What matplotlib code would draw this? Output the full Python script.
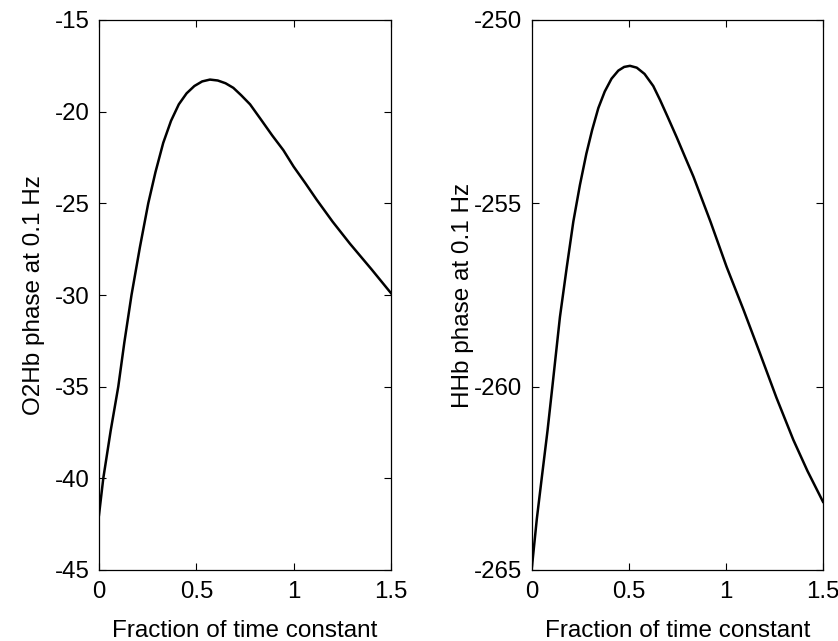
import matplotlib
matplotlib.use("Agg")
import matplotlib.pyplot as plt

plt.rcParams["font.family"] = ["Liberation Sans", "DejaVu Sans"]

# ── Data ─────────────────────────────────────────────────────────────────────
o2hb_x = [0.0, 0.022, 0.06, 0.099, 0.13, 0.167, 0.21, 0.253, 0.29, 0.33,
          0.37, 0.41, 0.45, 0.49, 0.53, 0.57, 0.61, 0.65, 0.69, 0.73,
          0.776, 0.83, 0.89, 0.947, 1.0, 1.06, 1.118, 1.2, 1.289, 1.4, 1.5]
o2hb_y = [-42.0, -40.0, -37.4, -35.0, -32.6, -30.0, -27.4, -25.0, -23.3, -21.7,
          -20.5, -19.6, -19.0, -18.6, -18.35, -18.25, -18.3, -18.45, -18.7, -19.1,
          -19.6, -20.4, -21.3, -22.1, -23.0, -23.9, -24.8, -26.0, -27.2, -28.6, -29.9]

hhb_x = [0.0, 0.025, 0.05, 0.08, 0.105, 0.144, 0.179, 0.213, 0.247, 0.28,
         0.31, 0.342, 0.375, 0.41, 0.445, 0.475, 0.505, 0.54, 0.58, 0.625,
         0.66, 0.70, 0.746, 0.79, 0.832, 0.92, 1.003, 1.09, 1.175, 1.26,
         1.347, 1.42, 1.5]
hhb_y = [-264.9, -263.6, -262.5, -261.2, -260.0, -258.1, -256.75, -255.5, -254.5, -253.65,
         -253.0, -252.4, -251.95, -251.6, -251.38, -251.28, -251.25, -251.3, -251.47, -251.8,
         -252.18, -252.65, -253.2, -253.75, -254.27, -255.5, -256.73, -257.9, -259.09, -260.3,
         -261.45, -262.3, -263.14]

xticks = [0, 0.5, 1, 1.5]
xtick_labels = ["0", "0.5", "1", "1.5"]
o2hb_yticks = [-45, -40, -35, -30, -25, -20, -15]
hhb_yticks = [-265, -260, -255, -250]

# ── Plot ─────────────────────────────────────────────────────────────────────
fig = plt.figure(figsize=(8.38, 6.41), dpi=100)
ax1 = fig.add_axes([99 / 838, 71 / 641, 292 / 838, 550 / 641])
ax2 = fig.add_axes([532 / 838, 71 / 641, 291 / 838, 550 / 641])

panels = [
    (ax1, o2hb_x, o2hb_y, o2hb_yticks, "O2Hb phase at 0.1 Hz", 7),
    (ax2, hhb_x, hhb_y, hhb_yticks, "HHb phase at 0.1 Hz", 0),
]
for ax, xs, ys, yt, ylab, ypad in panels:
    ax.plot(xs, ys, color="black", linewidth=1.8)
    ax.set_xlim(0, 1.5)
    ax.set_ylim(yt[0], yt[-1])
    ax.set_xticks(xticks)
    ax.set_xticklabels(xtick_labels)
    ax.set_yticks(yt)
    ax.set_yticklabels([str(v) for v in yt])
    ax.tick_params(direction="in", length=5, width=0.8, labelsize=17.3,
                   top=True, right=True, pad=7)
    ax.tick_params(axis="x", pad=8)
    for sp in ax.spines.values():
        sp.set_linewidth(0.9)
    ax.set_xlabel("Fraction of time constant", fontsize=17.5, labelpad=12)
    ax.set_ylabel(ylab, fontsize=17.5, labelpad=ypad)

fig.savefig("out.png", dpi=100)
